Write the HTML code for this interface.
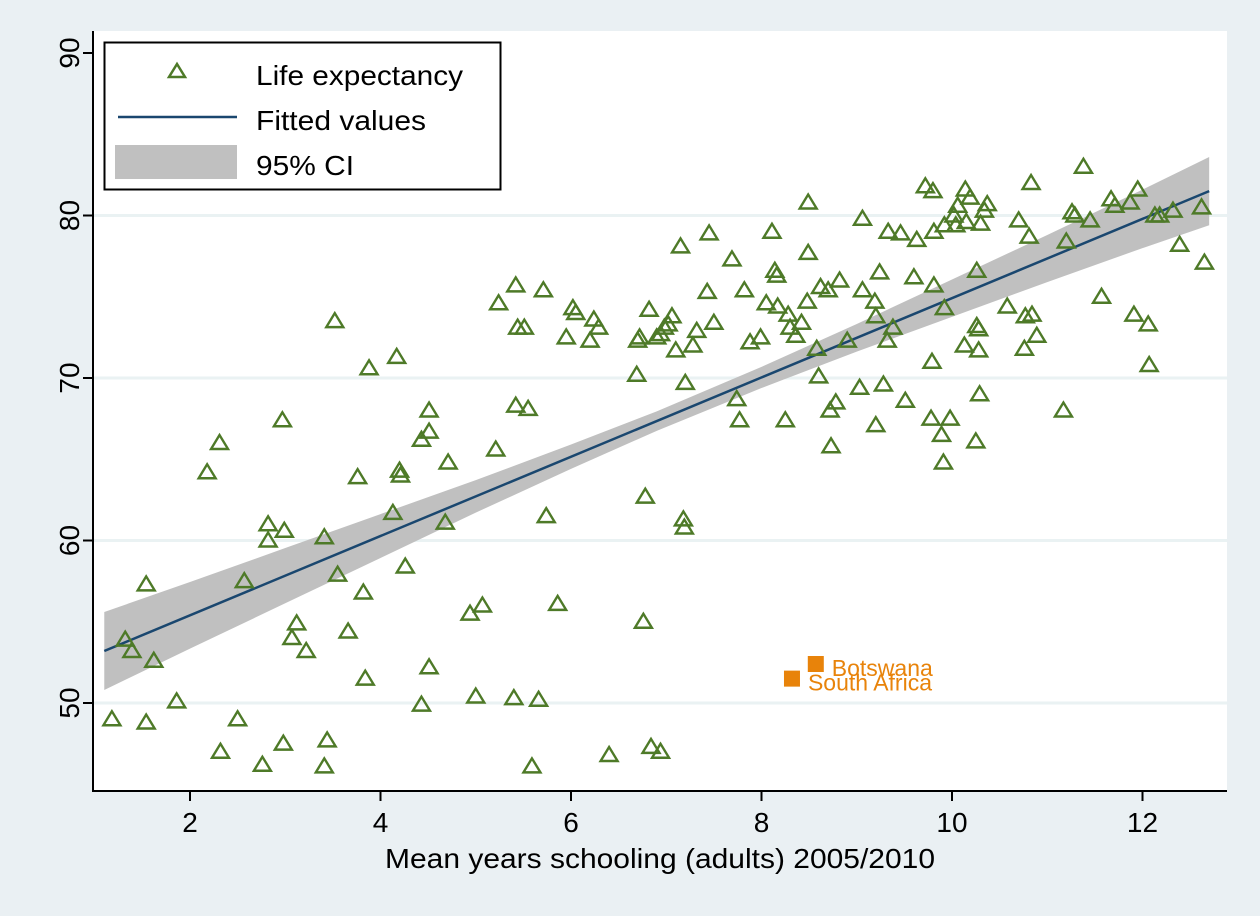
<!DOCTYPE html>
<html><head><meta charset="utf-8"><style>
html,body{margin:0;padding:0;background:#eaf0f3;}
svg{display:block;font-family:"Liberation Sans",Arial,sans-serif;}
</style></head><body>
<svg id="chart" width="1260" height="916" viewBox="0 0 1260 916">
<rect x="0" y="0" width="1260" height="916" fill="#eaf0f3"/>
<rect x="93" y="31" width="1134" height="760" fill="#ffffff"/>
<g id="grid"></g><g id="band"></g><g id="fit"></g><g id="pts"></g><g id="hl"></g><g id="axes"></g>
<g>
<rect x="104.5" y="42.5" width="396" height="147" fill="#fff" stroke="#000" stroke-width="2"/>
<polygon points="177,64 169,77 185,77" fill="none" stroke="#4e7a28" stroke-width="2.5"/>
<text x="256" y="85" font-size="28" textLength="207" lengthAdjust="spacingAndGlyphs">Life expectancy</text>
<line x1="118" y1="117" x2="237" y2="117" stroke="#1a476f" stroke-width="2.5"/>
<text x="256" y="130" font-size="28" textLength="170" lengthAdjust="spacingAndGlyphs">Fitted values</text>
<rect x="115" y="145" width="122" height="34" fill="#c0c0c0"/>
<text x="256" y="175" font-size="28" textLength="98" lengthAdjust="spacingAndGlyphs">95% CI</text>
</g>
<text x="660" y="868" font-size="28" text-anchor="middle" textLength="550" lengthAdjust="spacingAndGlyphs">Mean years schooling (adults) 2005/2010</text>
</svg>
<script>
const xTicks=[2,4,6,8,10,12];
const yTicks=[50,60,70,80,90];
const schooling=[1.18,1.32,1.39,1.54,1.54,1.62,1.86,2.18,2.31,2.32,2.50,2.57,2.76,2.82,2.82,2.97,2.99,2.98,3.07,3.12,3.22,3.41,3.41,3.44,3.52,3.55,3.66,3.76,3.82,3.84,3.88,4.13,4.17,4.20,4.21,4.26,4.43,4.43,4.51,4.51,4.51,4.68,4.71,4.94,5.00,5.07,5.21,5.24,5.40,5.42,5.42,5.44,5.51,5.55,5.59,5.66,5.71,5.74,5.86,5.95,6.02,6.05,6.20,6.24,6.29,6.40,6.69,6.70,6.72,6.78,6.76,6.82,6.84,6.90,6.94,6.94,6.98,7.02,7.06,7.10,7.15,7.18,7.19,7.20,7.28,7.32,7.43,7.45,7.50,7.69,7.74,7.77,7.82,7.88,7.99,8.05,8.11,8.14,8.16,8.17,8.25,8.28,8.30,8.36,8.42,8.48,8.49,8.49,8.58,8.60,8.62,8.70,8.72,8.73,8.78,8.82,8.90,9.03,9.06,9.06,9.19,9.20,9.20,9.24,9.28,9.32,9.33,9.38,9.46,9.51,9.60,9.63,9.72,9.78,9.79,9.80,9.81,9.81,9.89,9.91,9.92,9.92,9.98,10.02,10.04,10.06,10.14,10.15,10.13,10.19,10.25,10.26,10.26,10.28,10.28,10.29,10.30,10.34,10.37,10.58,10.70,10.76,10.77,10.81,10.83,10.84,10.89,11.17,11.20,11.26,11.29,11.38,11.45,11.57,11.67,11.71,11.87,11.91,11.95,12.06,12.07,12.13,12.18,12.32,12.39,12.62,12.65];
const lifeExp=[49.0,53.9,53.2,57.3,48.8,52.6,50.1,64.2,66.0,47.0,49.0,57.5,46.2,61.0,60.0,67.4,60.6,47.5,54.0,54.9,53.2,60.2,46.1,47.7,73.5,57.9,54.4,63.9,56.8,51.5,70.6,61.7,71.3,64.3,64.0,58.4,66.2,49.9,68.0,66.7,52.2,61.1,64.8,55.5,50.4,56.0,65.6,74.6,50.3,75.7,68.3,73.1,73.1,68.1,46.1,50.2,75.4,61.5,56.1,72.5,74.3,74.0,72.3,73.6,73.1,46.8,70.2,72.3,72.5,62.7,55.0,74.2,47.3,72.5,47.0,72.7,73.1,73.3,73.8,71.7,78.1,61.3,60.8,69.7,72.0,72.9,75.3,78.9,73.4,77.3,68.7,67.4,75.4,72.2,72.5,74.6,79.0,76.6,76.3,74.4,67.4,73.9,73.1,72.6,73.4,74.7,77.7,80.8,71.8,70.1,75.6,75.4,68.0,65.8,68.5,76.0,72.3,69.4,75.4,79.8,74.7,67.1,73.8,76.5,69.6,72.3,79.0,73.1,78.9,68.6,76.2,78.5,81.8,67.5,71.0,81.5,75.7,79.0,66.5,64.8,74.3,79.4,67.5,80.0,79.4,80.6,81.6,79.6,72.0,81.1,66.1,73.2,76.6,71.7,73.0,69.0,79.5,80.3,80.7,74.4,79.7,71.8,73.8,78.7,82.0,73.9,72.6,68.0,78.4,80.2,80.0,83.0,79.7,75.0,81.0,80.6,80.8,73.9,81.6,73.3,70.8,80.0,80.0,80.3,78.2,80.5,77.1];
const hlNames=["Botswana","South Africa"];
const hlX=[8.57,8.32];
const hlY=[52.4,51.5];
const fitX=[1.1,12.7];
const fitY=[53.2,81.5];
const ciX=[1.1,2,3,4,5,6,6.9,8,9,10,11,12,12.7];
const ciHalf=[2.4,2.05,1.7,1.35,1.0,0.75,0.6,0.65,0.85,1.15,1.45,1.8,2.1];

const NS="http://www.w3.org/2000/svg";
const X=v=>190+(v-2)*95.25;
const Y=v=>703-(v-50)*16.25;
function mk(t,a,p){const e=document.createElementNS(NS,t);for(const k in a)e.setAttribute(k,a[k]);document.getElementById(p).appendChild(e);return e;}
const fitAt=x=>fitY[0]+(fitY[1]-fitY[0])*(x-fitX[0])/(fitX[1]-fitX[0]);

yTicks.forEach(t=>{if(t===90)return;
 const g=mk('line',{x1:93,x2:1227,y1:Y(t),y2:Y(t),stroke:'#eaf2f3','stroke-width':3},'grid');
 
 });

let up=ciX.map((x,i)=>X(x)+','+Y(fitAt(x)+ciHalf[i]));
let lo=ciX.map((x,i)=>X(x)+','+Y(fitAt(x)-ciHalf[i])).reverse();
const band=mk('polygon',{points:up.concat(lo).join(' '),fill:'#c0c0c0'},'band');



const fl=mk('line',{x1:X(fitX[0]),y1:Y(fitY[0]),x2:X(fitX[1]),y2:Y(fitY[1]),stroke:'#1a476f','stroke-width':2.5},'fit');



schooling.forEach((x,i)=>{const cx=X(x),cy=Y(lifeExp[i]);
 const p=mk('polygon',{points:`${cx},${cy-8} ${cx-8.5},${cy+6} ${cx+8.5},${cy+6}`,fill:'none',stroke:'#4e7a28','stroke-width':2.4},'pts');
 
 });

hlNames.forEach((n,i)=>{const cx=X(hlX[i]),cy=Y(hlY[i]);
 const r=mk('rect',{x:cx-8,y:cy-8,width:16,height:16,fill:'#e8830a'},'hl');
 
 
 const t=mk('text',{x:cx+16,y:cy+12,'font-size':23,fill:'#e8830a'},'hl');
 t.textContent=n;
 
 });

const ax1=mk('line',{x1:93,y1:31,x2:93,y2:792,stroke:'#000','stroke-width':2},'axes');


const ax2=mk('line',{x1:92,y1:791,x2:1227,y2:791,stroke:'#000','stroke-width':2},'axes');


yTicks.forEach(t=>{
 const l=mk('line',{x1:83,x2:93,y1:Y(t),y2:Y(t),stroke:'#000','stroke-width':2},'axes');
 
 
 const tx=mk('text',{x:0,y:0,'font-size':28,'text-anchor':'middle',transform:`translate(79,${Y(t)}) rotate(-90)`},'axes');
 tx.textContent=t;
 
 });
xTicks.forEach(t=>{
 const l=mk('line',{x1:X(t),x2:X(t),y1:791,y2:801,stroke:'#000','stroke-width':2},'axes');
 
 
 const tx=mk('text',{x:X(t),y:832,'font-size':28,'text-anchor':'middle'},'axes');
 tx.textContent=t;
 
 });
</script>
</body></html>
